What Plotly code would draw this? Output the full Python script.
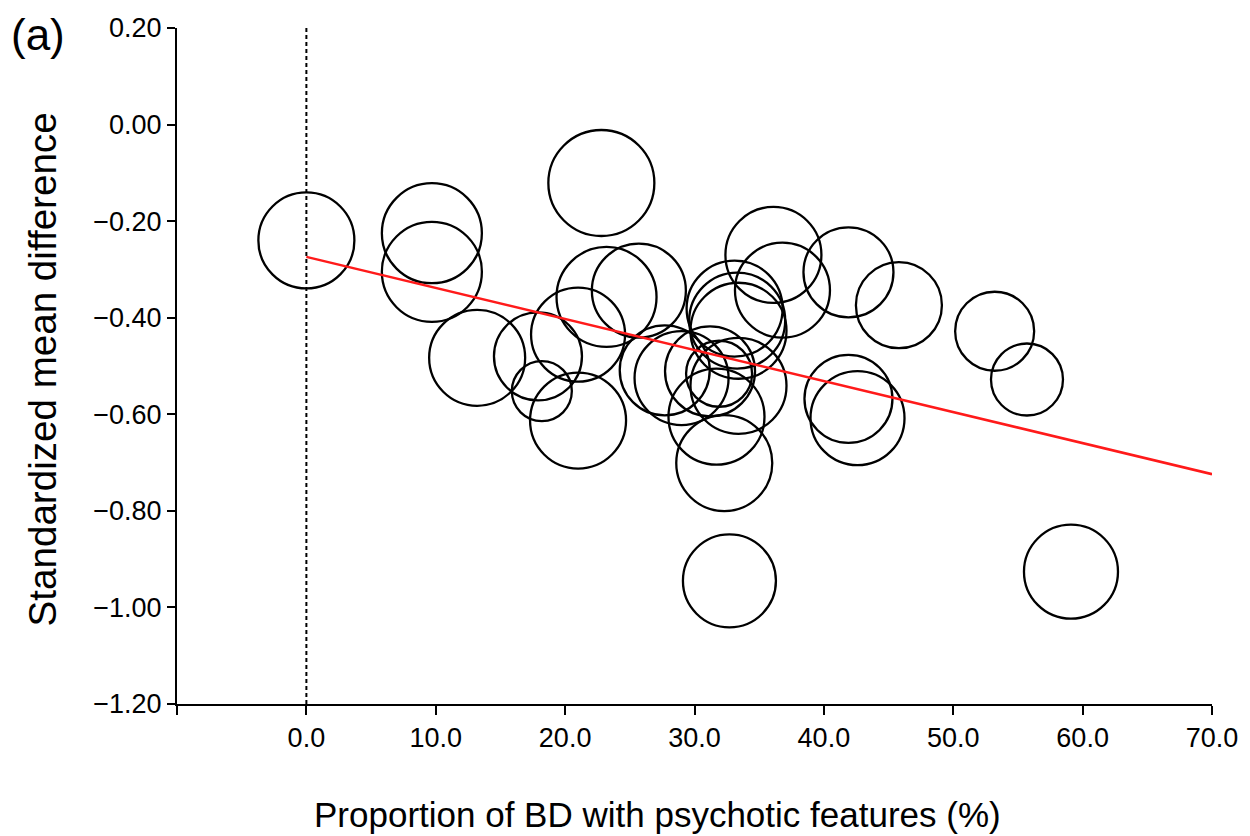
import plotly.graph_objects as go

# Study-level data (proportion with psychotic features %, standardized mean difference, relative weight)
prop_psychotic = [0.0, 9.7, 9.7, 13.2, 17.9, 18.2, 21.0, 21.0, 22.8, 23.2, 25.7,
                  27.7, 29.0, 31.2, 31.9, 31.7, 32.3, 33.4, 33.1, 33.3, 33.4,
                  32.7, 36.1, 36.8, 41.9, 45.8, 41.9, 42.6, 53.2, 55.7, 59.1]
smd = [-0.24, -0.225, -0.305, -0.483, -0.48, -0.552, -0.435, -0.613, -0.121, -0.357, -0.344,
       -0.509, -0.525, -0.511, -0.516, -0.605, -0.701, -0.541, -0.381, -0.406, -0.427,
       -0.945, -0.270, -0.343, -0.306, -0.374, -0.568, -0.608, -0.428, -0.528, -0.926]
weight = [4.8, 5.0, 5.0, 4.8, 4.4, 3.0, 4.7, 4.8, 5.3, 5.0, 4.7,
          4.5, 4.7, 4.5, 3.3, 4.8, 4.8, 4.8, 4.8, 4.8, 4.8,
          4.65, 4.8, 4.75, 4.5, 4.3, 4.4, 4.7, 3.95, 3.6, 4.7]

# Meta-regression line
reg_x = [0.0, 70.0]
reg_y = [-0.274, -0.724]

# Axis ticks
x_ticks = [-10, 0, 10, 20, 30, 40, 50, 60, 70]
x_ticklabels = ["", "0.0", "10.0", "20.0", "30.0", "40.0", "50.0", "60.0", "70.0"]
y_ticks = [0.2, 0.0, -0.2, -0.4, -0.6, -0.8, -1.0, -1.2]
y_ticklabels = ["0.20", "0.00", "\u22120.20", "\u22120.40", "\u22120.60", "\u22120.80", "\u22121.00", "\u22121.20"]

FONT = "Liberation Sans, Arial, Helvetica, sans-serif"

fig = go.Figure()

# dotted reference line at x = 0
fig.add_trace(go.Scatter(
    x=[0, 0], y=[y_ticks[-1], y_ticks[0]], mode="lines",
    line=dict(color="black", width=2, dash="4px,3px"),
    showlegend=False, hoverinfo="skip"))

# bubbles
fig.add_trace(go.Scatter(
    x=prop_psychotic, y=smd, mode="markers",
    marker=dict(size=weight, sizemode="diameter", sizeref=0.05, opacity=1,
                color="rgba(0,0,0,0)",
                line=dict(color="black", width=2.3)),
    showlegend=False))

# regression line
fig.add_trace(go.Scatter(
    x=reg_x, y=reg_y, mode="lines",
    line=dict(color="#ff1a1a", width=2.5),
    showlegend=False))

axis_common = dict(
    showgrid=False, zeroline=False, showline=True, linecolor="black", linewidth=2,
    ticks="outside", tickcolor="black", tickwidth=2, automargin=False,
    tickfont=dict(family=FONT, size=27, color="black"))

fig.update_xaxes(range=[-10, 70], tickvals=x_ticks, ticktext=x_ticklabels,
                 ticklen=9, **axis_common)
fig.update_yaxes(range=[-1.2, 0.2], tickvals=y_ticks, ticktext=y_ticklabels,
                 ticklen=8, **axis_common)

fig.update_layout(
    width=1250, height=836,
    margin=dict(l=169, r=46, t=20, b=140, autoexpand=False),
    plot_bgcolor="white", paper_bgcolor="white",
    font=dict(family=FONT, color="black"),
    annotations=[
        dict(text="Standardized mean difference", xref="paper", yref="paper",
             x=-0.1304, y=0.495, xanchor="center", yanchor="middle",
             textangle=-90, showarrow=False,
             font=dict(family=FONT, size=38.6, color="black")),
        dict(text="Proportion of BD with psychotic features (%)", xref="paper", yref="paper",
             x=0.4647, y=-0.163, xanchor="center", yanchor="middle",
             showarrow=False, font=dict(family=FONT, size=35, color="black")),
        dict(text="(a)", xref="paper", yref="paper",
             x=-0.1343, y=0.99, xanchor="center", yanchor="middle",
             showarrow=False, font=dict(family=FONT, size=44, color="black")),
    ],
)

fig.write_html("out.html")
